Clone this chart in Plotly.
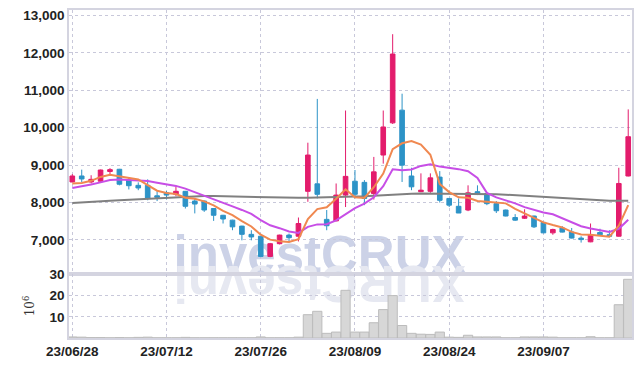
import plotly.graph_objects as go

dates = ["23/06/28","23/06/29","23/06/30","23/07/03","23/07/04","23/07/05","23/07/06","23/07/07","23/07/10","23/07/11",
         "23/07/12","23/07/13","23/07/14","23/07/17","23/07/18","23/07/19","23/07/20","23/07/21","23/07/24","23/07/25",
         "23/07/26","23/07/27","23/07/28","23/07/31","23/08/01","23/08/02","23/08/03","23/08/04","23/08/07","23/08/08",
         "23/08/09","23/08/10","23/08/11","23/08/14","23/08/16","23/08/17","23/08/18","23/08/21","23/08/22","23/08/23",
         "23/08/24","23/08/25","23/08/28","23/08/29","23/08/30","23/08/31","23/09/01","23/09/04","23/09/05","23/09/06",
         "23/09/07","23/09/08","23/09/11","23/09/12","23/09/13","23/09/14","23/09/15","23/09/18","23/09/19","23/09/20"]

open_ = [8550, 8710, 8550, 8570, 8830, 8890, 8600, 8460, 8460, 8180,
         8260, 8220, 8300, 8040, 8040, 7840, 7660, 7530, 7370, 7150,
         7100, 6560, 6900, 7130, 7100, 8300, 8500, 7550, 7510, 8200,
         8570, 8540, 8240, 9270, 10130, 10470, 8710, 8290, 8300, 8680,
         8110, 7900, 7800, 8290, 8240, 7970, 7800, 7600, 7580, 7640,
         7470, 7190, 7320, 7210, 7050, 6950, 7200, 7140, 7100, 8710]
high = [8760, 8880, 8730, 8880, 8920, 8900, 8660, 8540, 8620, 8300,
        8310, 8420, 8310, 8100, 8050, 7850, 7670, 7540, 7380, 7260,
        7110, 6920, 7140, 7170, 7600, 9600, 10770, 7800, 8510, 10460,
        8870, 8600, 9220, 10460, 12500, 10910, 8930, 8780, 8780, 8840,
        8120, 8110, 8460, 8460, 8250, 8040, 7810, 7690, 7820, 7650,
        7480, 7300, 7370, 7320, 7100, 7440, 7300, 7260, 8930, 10490]
low = [8540, 8550, 8510, 8560, 8760, 8460, 8350, 8330, 8060, 8040,
       8080, 8170, 7840, 7710, 7750, 7510, 7440, 7260, 6990, 6990,
       6540, 6540, 6880, 6970, 6960, 8020, 8110, 7260, 7500, 7880,
       8110, 7930, 8080, 9040, 10100, 8550, 8330, 8280, 8260, 8000,
       7880, 7720, 7770, 8200, 7930, 7720, 7630, 7510, 7560, 7320,
       7180, 7140, 7200, 7040, 6930, 6940, 7130, 7090, 7090, 8700]
close = [8710, 8630, 8620, 8870, 8880, 8490, 8450, 8390, 8110, 8140,
         8200, 8300, 7900, 7960, 7800, 7660, 7560, 7350, 7150, 7080,
         6560, 6900, 7130, 7060, 7440, 9270, 8220, 7380, 8200, 8700,
         8220, 8110, 8820, 10020, 11970, 9000, 8420, 8330, 8660, 8060,
         7930, 7720, 8260, 8240, 7970, 7780, 7640, 7530, 7640, 7350,
         7190, 7280, 7210, 7050, 7010, 7140, 7140, 7100, 8510, 9760]

ma_short = [8510, 8525, 8580, 8685, 8742, 8698, 8662, 8616, 8464, 8316,
            8258, 8228, 8130, 8100, 8032, 7924, 7776, 7666, 7504, 7360,
            7140, 7008, 6964, 6946, 7018, 7560, 7824, 7874, 8102, 8354,
            8144, 8122, 8410, 8774, 9428, 9584, 9646, 9548, 9276, 8494,
            8280, 8140, 8126, 8042, 8024, 7994, 7978, 7832, 7712, 7588,
            7470, 7398, 7334, 7216, 7148, 7138, 7110, 7088, 7380, 7930]
ma_mid = [8390, 8430, 8480, 8540, 8600, 8615, 8605, 8595, 8575, 8529,
          8478, 8445, 8373, 8282, 8174, 8091, 8002, 7898, 7802, 7696,
          7532, 7392, 7315, 7225, 7189, 7350, 7416, 7419, 7524, 7686,
          7852, 7973, 8142, 8438, 8891, 8864, 8884, 8979, 9025, 8961,
          8932, 8893, 8837, 8659, 8259, 8137, 8059, 7979, 7877, 7806,
          7732, 7688, 7583, 7464, 7368, 7304, 7254, 7211, 7298, 7539]
ma_long = [7990, 8000, 8015, 8030, 8045, 8060, 8075, 8090, 8105, 8120,
           8135, 8150, 8160, 8170, 8175, 8175, 8170, 8160, 8150, 8140,
           8135, 8130, 8125, 8125, 8125, 8130, 8135, 8140, 8145, 8150,
           8160, 8170, 8185, 8200, 8220, 8230, 8235, 8240, 8240, 8235,
           8235, 8230, 8230, 8228, 8225, 8220, 8210, 8195, 8180, 8160,
           8140, 8125, 8110, 8095, 8080, 8060, 8050, 8045, 8045, 8050]

volume_m = [0.5, 0.4, 0.2, 0.2, 0.1, 0.2, 0.1, 0.3, 0.4, 0.1,
            0.1, 0.1, 0.3, 0.1, 0.1, 0.1, 0.1, 0.1, 0.1, 0.1,
            0.5, 0.1, 0.1, 0.1, 0.4, 11.0, 12.6, 2.2, 2.8, 22.5,
            2.8, 2.8, 7.2, 13.4, 20.0, 5.9, 2.2, 1.8, 1.7, 2.8,
            0.4, 0.3, 1.3, 0.5, 0.5, 0.5, 0.1, 0.1, 0.5, 0.5,
            0.5, 0.4, 0.1, 0.1, 0.1, 0.6, 0.1, 0.1, 15.7, 27.7]

tick_dates = dates[::10]
price_ticks = [7000, 8000, 9000, 10000, 11000, 12000, 13000]
volume_ticks = [10, 20, 30]

PINK = "#e31c6c"
BLUE = "#2d93c7"
GRID = "rgb(200,200,218)"
AXLINE = "rgb(212,212,224)"
TICKFONT = dict(family="Liberation Sans, Arial, sans-serif", size=13.5, color="#222222", weight="bold")
XRANGE = [-0.35, 59.4]

fig = go.Figure()

fig.add_trace(go.Scatter(x=dates, y=ma_long, mode="lines", line=dict(color="#808080", width=2),
                         xaxis="x", yaxis="y", hoverinfo="skip"))
fig.add_trace(go.Candlestick(x=dates, open=open_, high=high, low=low, close=close,
                             increasing=dict(line=dict(color=PINK, width=1), fillcolor=PINK),
                             decreasing=dict(line=dict(color=BLUE, width=1), fillcolor=BLUE),
                             whiskerwidth=0, xaxis="x", yaxis="y", hoverinfo="skip"))
fig.add_trace(go.Scatter(x=dates, y=ma_mid, mode="lines", line=dict(color="#c74ee6", width=2),
                         xaxis="x", yaxis="y", hoverinfo="skip"))
fig.add_trace(go.Scatter(x=dates, y=ma_short, mode="lines", line=dict(color="#f08850", width=2),
                         xaxis="x", yaxis="y", hoverinfo="skip"))
fig.add_trace(go.Bar(x=dates, y=volume_m, marker=dict(color="#d7d7d7", line=dict(color="#bcbcbc", width=1)),
                     xaxis="x2", yaxis="y2", hoverinfo="skip"))

vol_dom = 64 / 328

common_grid = dict(showgrid=True, gridcolor=GRID, griddash="dot", gridwidth=1,
                   showline=True, mirror=True, linecolor=AXLINE, linewidth=1.5, ticks="", automargin=False)

fig.update_layout(
    width=642, height=367,
    margin=dict(l=69, r=10, t=10, b=29),
    paper_bgcolor="white", plot_bgcolor="white",
    showlegend=False, hovermode=False, bargap=0.02,
    xaxis=dict(type="category", domain=[0, 1], anchor="y", range=XRANGE,
               rangeslider=dict(visible=False), showticklabels=False,
               tickvals=tick_dates, **common_grid),
    yaxis=dict(domain=[vol_dom, 1], anchor="x", range=[6090, 13147],
               tickvals=price_ticks, tickformat=",", tickfont=TICKFONT, zeroline=False, **common_grid),
    xaxis2=dict(type="category", domain=[0, 1], anchor="y2", range=XRANGE,
                tickvals=tick_dates, ticktext=tick_dates, tickfont=TICKFONT, **common_grid),
    yaxis2=dict(domain=[0, vol_dom], anchor="x2", range=[0, 30.2],
                tickvals=volume_ticks, tickfont=TICKFONT, zeroline=False,
                title=dict(text="10<sup>6</sup>", font=dict(family="DejaVu Serif, serif", size=12, color="#333333"),
                           standoff=12),
                **common_grid),
)

# watermark (drawn beneath the traces) with its reflection
fig.add_shape(type="rect", xref="paper", yref="paper", x0=0.19, x1=0.70, y0=0.21, y1=0.33,
              line=dict(width=0), fillcolor="rgba(0,0,0,0)", layer="below",
              label=dict(text="<b>investCRUX</b>", textposition="middle center",
                         font=dict(family="Liberation Sans, Arial, sans-serif", size=51, color="rgb(204,210,231)")))
fig.add_shape(type="rect", xref="paper", yref="paper", x0=0.19, x1=0.70, y0=0.09, y1=0.21,
              line=dict(width=0), fillcolor="rgba(0,0,0,0)", layer="below",
              label=dict(text="<b>XURCtsevni</b>", textposition="middle center", textangle=180,
                         font=dict(family="Liberation Sans, Arial, sans-serif", size=51, color="rgb(230,232,241)")))

fig.write_html("out.html", config={"displayModeBar": False}, post_script="document.body.style.margin='0';")
